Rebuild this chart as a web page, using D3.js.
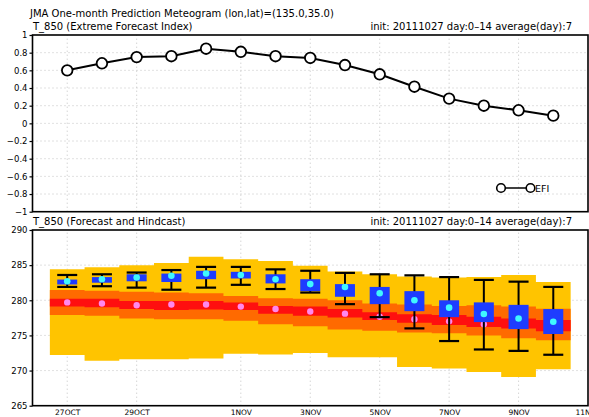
<!DOCTYPE html>
<html>
<head>
<meta charset="utf-8">
<script src="https://cdn.jsdelivr.net/npm/d3@7/dist/d3.min.js"></script>
<style>
  body { margin: 0; background: #fff; }
  text { font-family: "DejaVu Sans", "Liberation Sans", sans-serif; fill: #000; }
</style>
</head>
<body>
<div id="chart"></div>
<script>
'use strict';

// day 0 .. 14 (27 Oct .. 10 Nov 2011)
var days = ['2011-10-27', '2011-10-28', '2011-10-29', '2011-10-30', '2011-10-31',
  '2011-11-01', '2011-11-02', '2011-11-03', '2011-11-04', '2011-11-05',
  '2011-11-06', '2011-11-07', '2011-11-08', '2011-11-09', '2011-11-10'];

var tickDates = ['2011-10-27', '2011-10-29', '2011-11-01', '2011-11-03',
  '2011-11-05', '2011-11-07', '2011-11-09', '2011-11-11'];
var tickLabels = ['27OCT', '29OCT', '1NOV', '3NOV', '5NOV', '7NOV', '9NOV', '11NOV'];

// Extreme Forecast Index
var efi = [0.60, 0.68, 0.75, 0.76, 0.845, 0.81, 0.76, 0.74, 0.66, 0.555, 0.415, 0.28, 0.20, 0.148, 0.087];
var efiTicks = [1, 0.8, 0.6, 0.4, 0.2, 0, -0.2, -0.4, -0.6, -0.8, -1];

// hindcast climatology bands
var yellowHi = [284.4, 284.7, 285.0, 285.3, 286.2, 285.85, 285.6, 284.9, 284.1, 283.7, 283.4, 283.25, 283.3, 283.6, 282.6];
var yellowLo = [272.2, 271.4, 271.6, 271.6, 271.7, 272.4, 272.3, 272.5, 271.9, 271.9, 270.5, 270.3, 269.8, 269.1, 270.2];
var orangeHi = [281.45, 281.35, 281.2, 281.1, 281.0, 280.6, 280.3, 280.2, 280.0, 279.55, 279.4, 279.2, 279.3, 279.1, 278.8];
var orangeLo = [277.9, 277.8, 277.4, 277.3, 277.3, 277.1, 276.6, 276.3, 275.85, 275.65, 275.4, 275.3, 275.0, 274.6, 274.3];
var redHi = [280.2, 280.2, 279.9, 279.9, 279.9, 279.7, 279.2, 279.1, 278.75, 278.3, 278.0, 277.9, 277.65, 277.4, 277.2];
var redLo = [279.1, 279.0, 278.75, 278.6, 278.7, 278.6, 278.1, 277.8, 277.55, 277.2, 276.8, 276.5, 276.2, 276.0, 275.6];
var climMean = [279.7, 279.55, 279.3, 279.4, 279.4, 279.1, 278.75, 278.4, 278.1, 277.65, 277.3, 277.0, 276.6, 276.6, 276.4];

// forecast ensemble
var whiskerHi = [283.6, 283.7, 283.95, 284.3, 284.75, 284.75, 284.4, 284.2, 283.9, 283.7, 283.55, 283.3, 282.9, 282.65, 281.9];
var boxHi = [282.95, 283.3, 283.7, 283.8, 284.2, 284.05, 283.7, 283.0, 282.3, 281.9, 281.3, 280.0, 279.7, 279.35, 278.75];
var boxLo = [282.25, 282.5, 282.7, 282.6, 283.0, 283.1, 282.4, 281.3, 280.5, 279.45, 278.45, 277.6, 276.9, 275.9, 275.2];
var whiskerLo = [281.9, 282.0, 281.8, 281.5, 281.8, 282.2, 281.6, 281.1, 279.45, 277.6, 276.0, 274.2, 273.0, 272.8, 272.25];
var fcstMean = [282.7, 283.0, 283.25, 283.5, 283.8, 283.6, 283.0, 282.3, 281.9, 281.0, 280.0, 278.95, 278.05, 277.4, 276.95];
var tTicks = [290, 285, 280, 275, 270, 265];

var W = 589, H = 417;
var parse = d3.utcParse('%Y-%m-%d');
var dates = days.map(parse);

var svg = d3.select('#chart').append('svg')
  .attr('width', W)
  .attr('height', H);

var x = d3.scaleUtc()
  .domain([parse('2011-10-26'), parse('2011-11-11')])
  .range([32.5, 588]);

var yTop = d3.scaleLinear().domain([-1, 1]).range([211.7, 35]);
var yBot = d3.scaleLinear().domain([265, 290]).range([405.7, 230]);

var left = x.range()[0], right = x.range()[1];

function halfDay(d, sign) { return d3.utcHour.offset(d, 12 * sign); }

// ── headers ───────────────────────────────────────
svg.append('text')
  .attr('x', 30).attr('y', 17)
  .style('font-size', '10px')
  .text('JMA One-month Prediction Meteogram (lon,lat)=(135.0,35.0)');

function panelHeader(label, y) {
  svg.append('text')
    .attr('x', 33).attr('y', y)
    .style('font-size', '10px')
    .text(label);
  svg.append('text')
    .attr('x', 572).attr('y', y)
    .attr('text-anchor', 'end')
    .style('font-size', '10px')
    .text('init: 20111027 day:0\u201314 average(day):7');
}
panelHeader('T_850 (Extreme Forecast Index)', 30);
panelHeader('T_850 (Forecast and Hindcast)', 225);

// grid helper: dotted lines at ticks
function grid(yScale, yTicks) {
  var g = svg.append('g').attr('class', 'grid');
  g.selectAll('line.h')
    .data(yTicks.slice(1, -1))
    .join('line')
    .attr('x1', left).attr('x2', right)
    .attr('y1', function (d) { return yScale(d); })
    .attr('y2', function (d) { return yScale(d); });
  g.selectAll('line.v')
    .data(tickDates.map(parse).filter(function (d) { return x(d) < right - 1; }))
    .join('line')
    .attr('x1', function (d) { return x(d); })
    .attr('x2', function (d) { return x(d); })
    .attr('y1', yScale.range()[0]).attr('y2', yScale.range()[1]);
  g.selectAll('line')
    .attr('stroke', '#b4b4b4')
    .attr('stroke-width', 0.8)
    .attr('stroke-dasharray', '1,3');
}

function yAxis(yScale, ticks, fmt) {
  var ax = svg.append('g')
    .attr('transform', 'translate(' + left + ',0)')
    .call(d3.axisLeft(yScale).tickValues(ticks).tickSize(3).tickPadding(2).tickFormat(fmt));
  ax.select('.domain').remove();
  ax.selectAll('line').attr('stroke', '#000').attr('stroke-width', 1.2);
  ax.selectAll('text')
    .style('font-size', '8.5px')
    .style('font-family', '"DejaVu Sans", sans-serif');
}

function frame(yScale) {
  svg.append('rect')
    .attr('x', left).attr('y', yScale.range()[1])
    .attr('width', right - left)
    .attr('height', yScale.range()[0] - yScale.range()[1])
    .attr('fill', 'none')
    .attr('stroke', '#000')
    .attr('stroke-width', 1.6);
}

// ── top panel: EFI ────────────────────────────────
grid(yTop, efiTicks.slice().reverse());

var efiPts = dates.map(function (d, i) { return { date: d, v: efi[i] }; });

svg.append('path')
  .datum(efiPts)
  .attr('fill', 'none')
  .attr('stroke', '#000')
  .attr('stroke-width', 2)
  .attr('d', d3.line()
    .x(function (d) { return x(d.date); })
    .y(function (d) { return yTop(d.v); }));

svg.append('g').selectAll('circle')
  .data(efiPts)
  .join('circle')
  .attr('cx', function (d) { return x(d.date); })
  .attr('cy', function (d) { return yTop(d.v); })
  .attr('r', 5.3)
  .attr('fill', '#fff')
  .attr('stroke', '#000')
  .attr('stroke-width', 1.8);

// legend
var leg = svg.append('g').attr('transform', 'translate(501,188)');
leg.append('line').attr('x1', 0).attr('x2', 29.5).attr('stroke', '#000').attr('stroke-width', 1.5);
leg.selectAll('circle').data([0, 29.5]).join('circle')
  .attr('cx', function (d) { return d; })
  .attr('r', 4.3)
  .attr('fill', '#fff')
  .attr('stroke', '#000')
  .attr('stroke-width', 1.6);
leg.append('text').attr('x', 34).attr('y', 3.6)
  .style('font-size', '9.5px')
  .text('EFI');

frame(yTop);
yAxis(yTop, efiTicks, function (d) { return d3.format('')(d); });

// ── bottom panel: forecast and hindcast ───────────
grid(yBot, tTicks.slice().reverse());

function stepBand(hi, lo, color) {
  var pts = dates.map(function (d, i) { return { t: halfDay(d, -1), hi: hi[i], lo: lo[i] }; });
  var last = dates.length - 1;
  pts.push({ t: halfDay(dates[last], 1), hi: hi[last], lo: lo[last] });
  svg.append('path')
    .datum(pts)
    .attr('fill', color)
    .attr('d', d3.area()
      .curve(d3.curveStepAfter)
      .x(function (d) { return x(d.t); })
      .y0(function (d) { return yBot(d.lo); })
      .y1(function (d) { return yBot(d.hi); }));
}
stepBand(yellowHi, yellowLo, '#ffc400');
stepBand(orangeHi, orangeLo, '#ff6a00');
stepBand(redHi, redLo, '#ff0f0f');

svg.append('g').selectAll('circle')
  .data(dates)
  .join('circle')
  .attr('cx', function (d) { return x(d); })
  .attr('cy', function (d, i) { return yBot(climMean[i]); })
  .attr('r', 3.2)
  .attr('fill', '#ff88ee');

var boxW = 20;
var boxes = svg.append('g').selectAll('g')
  .data(dates)
  .join('g')
  .attr('transform', function (d) { return 'translate(' + x(d) + ',0)'; });

boxes.append('line')
  .attr('y1', function (d, i) { return yBot(whiskerHi[i]); })
  .attr('y2', function (d, i) { return yBot(whiskerLo[i]); })
  .attr('stroke', '#000').attr('stroke-width', 2);
[whiskerHi, whiskerLo].forEach(function (arr) {
  boxes.append('line')
    .attr('x1', -boxW / 2).attr('x2', boxW / 2)
    .attr('y1', function (d, i) { return yBot(arr[i]); })
    .attr('y2', function (d, i) { return yBot(arr[i]); })
    .attr('stroke', '#000').attr('stroke-width', 2.2);
});
boxes.append('rect')
  .attr('x', -boxW / 2)
  .attr('width', boxW)
  .attr('y', function (d, i) { return yBot(boxHi[i]); })
  .attr('height', function (d, i) { return yBot(boxLo[i]) - yBot(boxHi[i]); })
  .attr('fill', '#1e3cff');
boxes.append('circle')
  .attr('cy', function (d, i) { return yBot(fcstMean[i]); })
  .attr('r', 3.3)
  .attr('fill', '#3ff8ff');

frame(yBot);
yAxis(yBot, tTicks, d3.format('d'));

// x axis labels
var xa = svg.append('g')
  .attr('transform', 'translate(0,' + yBot.range()[0] + ')')
  .call(d3.axisBottom(x)
    .tickValues(tickDates.map(parse))
    .tickSize(0)
    .tickPadding(3.5)
    .tickFormat(function (d, i) { return tickLabels[i]; }));
xa.select('.domain').remove();
xa.selectAll('text')
  .style('font-size', '7.5px')
  .style('font-family', '"DejaVu Sans", sans-serif');
</script>
</body>
</html>
